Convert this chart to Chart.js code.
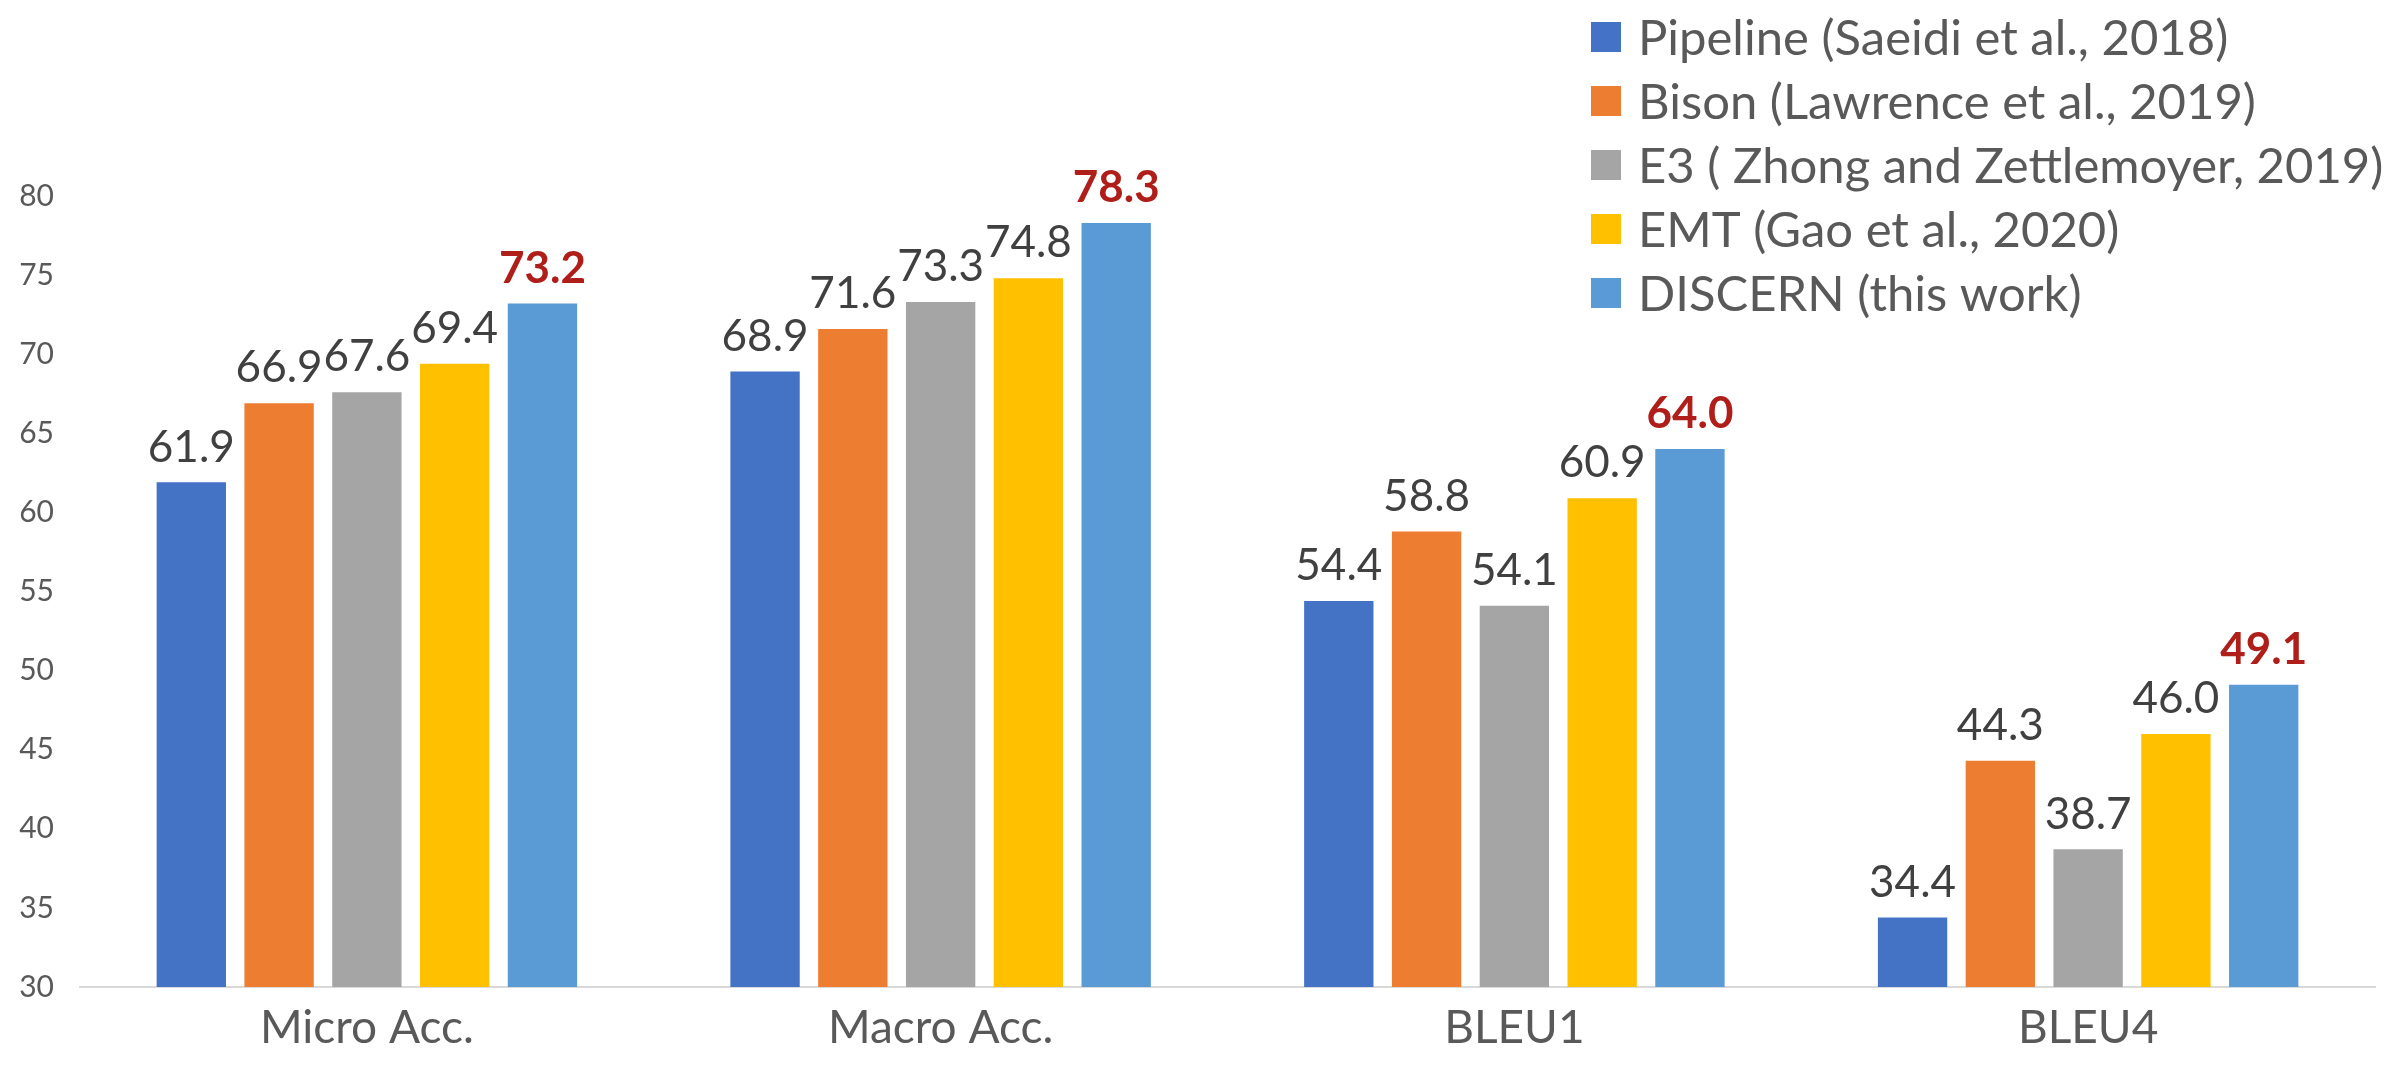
<!DOCTYPE html>
<html>
<head>
<meta charset="utf-8">
<script src="https://cdn.jsdelivr.net/npm/chart.js@4.4.1/dist/chart.umd.min.js"></script>
<style>
    html, body { margin: 0; padding: 0; background: #fff; }
    #wrap { width: 2400px; height: 1078px; position: relative; }
</style>
</head>
<body>
<div id="wrap"><canvas id="barChart"></canvas></div>
<script>
// Chart data
const categories = ['Micro Acc.', 'Macro Acc.', 'BLEU1', 'BLEU4'];
const seriesNames = [
    'Pipeline (Saeidi et al., 2018)',
    'Bison (Lawrence et al., 2019)',
    'E3 ( Zhong and Zettlemoyer, 2019)',
    'EMT (Gao et al., 2020)',
    'DISCERN (this work)'
];
const pipelineVals = [61.9, 68.9, 54.4, 34.4];
const bisonVals = [66.9, 71.6, 58.8, 44.3];
const e3Vals = [67.6, 73.3, 54.1, 38.7];
const emtVals = [69.4, 74.8, 60.9, 46.0];
const discernVals = [73.2, 78.3, 64.0, 49.1];
const seriesColors = ['#4472C4', '#ED7D31', '#A5A5A5', '#FFC000', '#5B9BD5'];
const yTicks = [30, 35, 40, 45, 50, 55, 60, 65, 70, 75, 80];

const FONT = 'Lato, "Open Sans", sans-serif';
const allSeries = [pipelineVals, bisonVals, e3Vals, emtVals, discernVals];
const highlightIndex = 4; // DISCERN values shown in bold red

// Value labels above each bar
const valueLabels = {
    id: 'valueLabels',
    afterDatasetsDraw(chart) {
        const ctx = chart.ctx;
        ctx.save();
        ctx.textAlign = 'center';
        ctx.textBaseline = 'middle';
        chart.data.datasets.forEach((ds, i) => {
            const meta = chart.getDatasetMeta(i);
            meta.data.forEach((bar, j) => {
                if (i === highlightIndex) {
                    ctx.font = 'bold 44px ' + FONT;
                    ctx.fillStyle = '#B01E1A';
                } else {
                    ctx.font = '44px ' + FONT;
                    ctx.fillStyle = '#404040';
                }
                ctx.fillText(ds.data[j].toFixed(1), bar.x, bar.y - 35);
            });
        });
        ctx.restore();
    }
};

// Vertical legend in the top right corner
const sideLegend = {
    id: 'sideLegend',
    afterDraw(chart) {
        const ctx = chart.ctx;
        ctx.save();
        ctx.font = '49px ' + FONT;
        ctx.textBaseline = 'middle';
        ctx.textAlign = 'left';
        seriesNames.forEach((name, i) => {
            const cy = 37 + i * 64;
            ctx.fillStyle = seriesColors[i];
            ctx.fillRect(1591, cy - 15, 30, 30);
            ctx.fillStyle = '#595959';
            ctx.fillText(name, 1638, cy + 2);
        });
        ctx.restore();
    }
};

const ctxBar = document.getElementById('barChart').getContext('2d');
new Chart(ctxBar, {
    type: 'bar',
    data: {
        labels: categories,
        datasets: seriesNames.map((name, i) => ({
            label: name,
            data: allSeries[i],
            backgroundColor: seriesColors[i],
            borderWidth: 0,
            categoryPercentage: 0.765,
            barPercentage: 0.79
        }))
    },
    options: {
        responsive: true,
        maintainAspectRatio: false,
        animation: false,
        layout: { padding: { top: 196, right: 25, left: 0, bottom: 0 } },
        plugins: { legend: { display: false }, tooltip: { enabled: false } },
        scales: {
            x: {
                grid: { display: false },
                border: { color: '#D9D9D9', width: 2 },
                ticks: { color: '#595959', font: { family: FONT, size: 46 }, padding: 6 },
                afterFit(scale) { scale.height = 91; }
            },
            y: {
                min: 30,
                max: 80,
                grid: { display: false, drawTicks: false },
                border: { display: false },
                afterBuildTicks(scale) { scale.ticks = yTicks.map(v => ({ value: v })); },
                ticks: { color: '#595959', font: { family: FONT, size: 30 }, padding: 26 },
                afterFit(scale) { scale.width = 80; }
            }
        }
    },
    plugins: [valueLabels, sideLegend]
});
</script>
</body>
</html>
